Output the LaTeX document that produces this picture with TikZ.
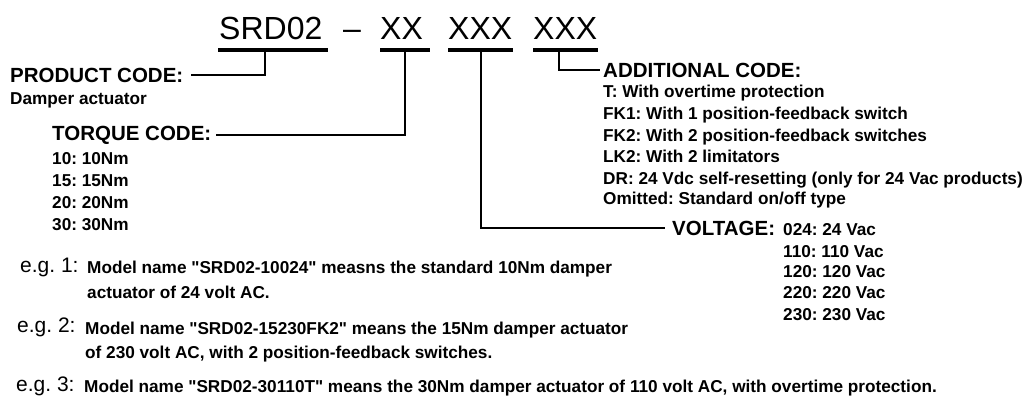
\documentclass[tikz,border=0pt]{standalone}
\usepackage{fontspec}
\setmainfont{Liberation Sans}
\frenchspacing

\tikzset{
  big/.style={anchor=base west, inner sep=0pt, font=\fontsize{32}{38}\selectfont},
  head/.style={anchor=base west, inner sep=0pt, font=\fontsize{20.5}{24}\selectfont\bfseries},
  item/.style={anchor=base west, inner sep=0pt, font=\fontsize{17.2}{20}\selectfont\bfseries},
  eglabel/.style={anchor=base west, inner sep=0pt, font=\fontsize{21}{25}\selectfont},
  uline/.style={line width=3.5pt},
  link/.style={line width=1.6pt},
}

\begin{document}
\begin{tikzpicture}[x=1pt,y=-1pt]
\useasboundingbox (0,0) rectangle (1035,397);
% model code
\node[big] (srd) at (219,39) {SRD02};
\node[big] (dash) at (343,39) {\textendash};
\node[big] (xx) at (380,39) {XX};
\node[big] (xxx) at (448,39) {XXX};
\node[big] (xxxx) at (533,39) {XXX};
\draw[uline] (218,50) -- (328,50);
\draw[uline] (380,50) -- (430,50);
\draw[uline] (448,50) -- (513,50);
\draw[uline] (533,50) -- (598,50);
\coordinate (srdtap) at (265,50);
\coordinate (xxtap) at (405,50);
\coordinate (xxxtap) at (481,50);
\coordinate (xxxxtap) at (559,50);
% product code
\node[head] (prod) at (10,82) {PRODUCT CODE:};
\node[item] (prodtxt) at (10,104) {Damper actuator};
\draw[link] (srdtap) |- ([xshift=7pt]prod.east);
% torque code
\node[head] (torque) at (52,140) {TORQUE CODE:};
\node[item] (tq10) at (52,164) {10: 10Nm};
\node[item] (tq15) at (52,186) {15: 15Nm};
\node[item] (tq20) at (52,208) {20: 20Nm};
\node[item] (tq30) at (52,230) {30: 30Nm};
\draw[link] (xxtap) |- ([xshift=5pt]torque.east);
% voltage
\node[head] (volt) at (672,235) {VOLTAGE:};
\node[item] (v024) at (783,235) {024: 24 Vac};
\node[item] (v110) at (783,257) {110: 110 Vac};
\node[item] (v120) at (783,277) {120: 120 Vac};
\node[item] (v220) at (783,298) {220: 220 Vac};
\node[item] (v230) at (783,320) {230: 230 Vac};
\draw[link] (xxxtap) |- ([xshift=-7pt]volt.west);
% additional code
\node[head] (addl) at (603,77) {ADDITIONAL CODE:};
\node[item] (adT) at (603,97) {T: With overtime protection};
\node[item] (adFKa) at (603,119) {FK1: With 1 position-feedback switch};
\node[item] (adFKb) at (603,141) {FK2: With 2 position-feedback switches};
\node[item] (adLK) at (603,162) {LK2: With 2 limitators};
\node[item] (adDR) at (603,184) {DR: 24 Vdc self-resetting (only for 24 Vac products)};
\node[item] (adOm) at (603,204) {Omitted: Standard on/off type};
\draw[link] (xxxxtap) |- ([xshift=-3pt]addl.west);
% examples
\node[eglabel] (eg1) at (20,272) {e.g. 1:};
\node[item] (eg1a) at (87,273) {Model name \textquotedbl SRD02-10024\textquotedbl{} measns the standard 10Nm damper};
\node[item] (eg1b) at (87,298) {actuator of 24 volt AC.};
\node[eglabel] (eg2) at (17,332) {e.g. 2:};
\node[item] (eg2a) at (85,334) {Model name \textquotedbl SRD02-15230FK2\textquotedbl{} means the 15Nm damper actuator};
\node[item] (eg2b) at (85,358) {of 230 volt AC, with 2 position-feedback switches.};
\node[eglabel] (eg3) at (16,391) {e.g. 3:};
\node[item] (eg3a) at (84,392) {Model name \textquotedbl SRD02-30110T\textquotedbl{} means the 30Nm damper actuator of 110 volt AC, with overtime protection.};
\end{tikzpicture}
\end{document}
